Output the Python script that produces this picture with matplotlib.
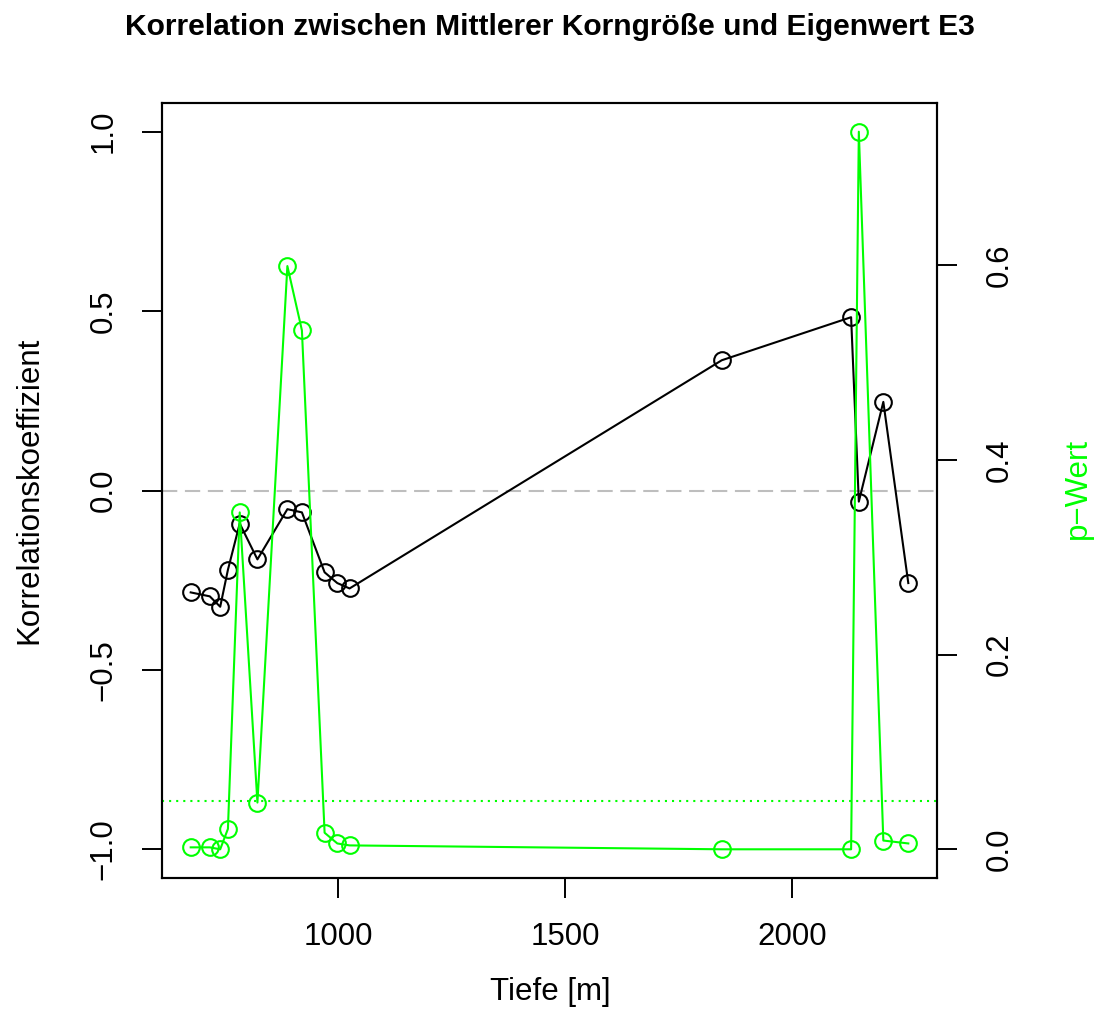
import matplotlib
matplotlib.use("Agg")
import matplotlib.pyplot as plt

plt.rcParams['font.family'] = ['Liberation Sans', 'DejaVu Sans']
plt.rcParams['lines.scale_dashes'] = False

# Tiefe [m]
tiefe = [675, 717, 740, 757, 783, 822, 888, 920, 970, 998, 1025,
         1845, 2130, 2147, 2201, 2256]
# Korrelationskoeffizient
korr = [-0.284, -0.295, -0.324, -0.221, -0.092, -0.192, -0.052, -0.061,
        -0.228, -0.258, -0.273, 0.363, 0.483, -0.031, 0.247, -0.258]
# p-Wert
pwert = [0.002, 0.002, 0.000, 0.021, 0.346, 0.048, 0.599, 0.533,
         0.017, 0.006, 0.004, 0.000, 0.000, 0.737, 0.009, 0.006]

xticks = [1000, 1500, 2000]
yticks_left = [-1.0, -0.5, 0.0, 0.5, 1.0]
yticks_right = [0.0, 0.2, 0.4, 0.6]
signif = 0.05

FS = 22.5
W, H = 1095, 1032


def rlim(vals):
    lo, hi = min(vals), max(vals)
    pad = 0.04 * (hi - lo)
    return lo - pad, hi + pad


fig = plt.figure(figsize=(W / 100, H / 100), dpi=100)
ax = fig.add_axes([162 / W, 1 - 878 / H, (937 - 162) / W, (878 - 103) / H])

ax.axhline(0, color='#BEBEBE', lw=1.5, linestyle=(0, (11, 5.5)), zorder=1)
ax.plot(tiefe, korr, color='black', lw=1.5, marker='o', ms=12,
        mfc='none', mew=1.5, zorder=2)
ax.set_xlim(*rlim(tiefe))
ax.set_ylim(-1.08, 1.08)
ax.set_xticks(xticks)
ax.set_xticklabels([str(v) for v in xticks])
ax.set_yticks(yticks_left)
ax.set_yticklabels([f"{v:.1f}".replace('-', '\u2212') for v in yticks_left],
                   rotation=90, va='center')

ax2 = ax.twinx()
ax2.axhline(signif, color='#00FF00', lw=1.5, linestyle=(0, (1.5, 3.6)), zorder=1)
ax2.plot(tiefe, pwert, color='#00FF00', lw=1.5, marker='o', ms=12,
         mfc='none', mew=1.5, zorder=2)
ax2.set_ylim(*rlim(pwert))
ax2.set_yticks(yticks_right)
ax2.set_yticklabels([f"{v:.1f}" for v in yticks_right], rotation=90, va='center')

for a in (ax, ax2):
    for s in a.spines.values():
        s.set_linewidth(1.5)
    a.tick_params(length=14.4, width=1.4, labelsize=FS, direction='out')
ax.tick_params(axis='x', pad=17)
ax.tick_params(axis='y', pad=17)
ax2.tick_params(axis='y', pad=20)

fig.text(550 / W, 1 - 35 / H,
         "Korrelation zwischen Mittlerer Korngröße und Eigenwert E3",
         ha='center', va='baseline', fontsize=21.6, fontweight='bold')
fig.text(550 / W, 1 - 1000 / H, "Tiefe [m]", ha='center', va='baseline',
         fontsize=FS)
fig.text(37 / W, 1 - 490 / H, "Korrelationskoeffizient", ha='center',
         va='baseline', rotation=90, rotation_mode='anchor', fontsize=FS)
fig.text(1086 / W, 1 - 488 / H, "p\u2212Wert", ha='center', va='baseline',
         rotation=90, rotation_mode='anchor', fontsize=FS, color='#00FF00')

fig.savefig("out.png", dpi=100)
